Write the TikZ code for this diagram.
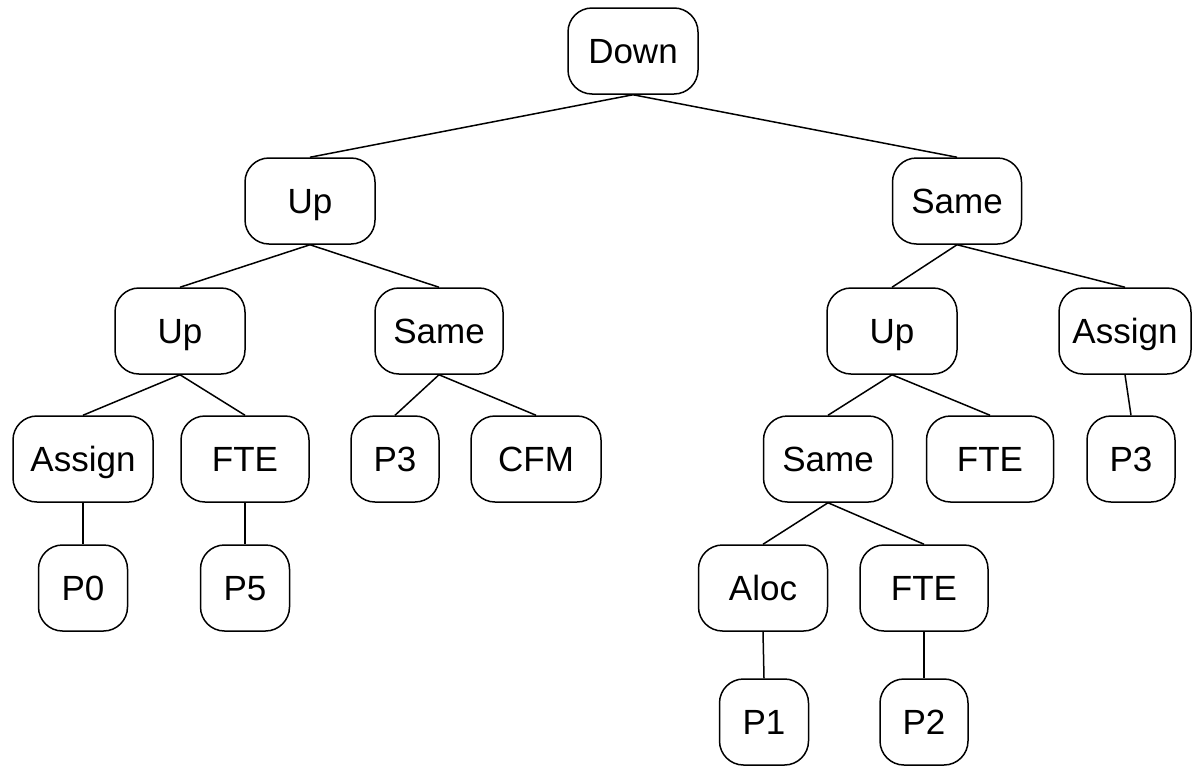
\documentclass[tikz,border=0pt]{standalone}
\usepackage{fontspec}
\setmainfont{Liberation Sans}
\begin{document}
\begin{tikzpicture}[x=1pt,y=-1pt,
  box/.style={draw, line width=1.5pt, rounded corners=24pt, minimum height=86pt, inner sep=0pt, text height=25pt, text depth=0pt, font=\fontsize{35}{40}\selectfont},
  link/.style={line width=1.5pt}]
\fill[white] (0,0) rectangle (1193,766);
\useasboundingbox (0,0) rectangle (1193,766);
% row 0
\node[box, minimum width=130pt] (down) at (633,51) {Down};
% row 1
\node[box, minimum width=130pt] (up1) at (310,201) {Up};
\node[box, minimum width=129pt] (same1) at (957,201) {Same};
% row 2
\node[box, minimum width=130pt] (up2) at (180,331) {Up};
\node[box, minimum width=128pt] (same2) at (439,331) {Same};
\node[box, minimum width=130pt] (up3) at (892,331) {Up};
\node[box, minimum width=132pt] (assignR) at (1125,331) {Assign};
% row 3
\node[box, minimum width=140pt] (assignL) at (83,459) {Assign};
\node[box, minimum width=128pt] (fteA) at (245,459) {FTE};
\node[box, minimum width=88pt] (p3a) at (395,459) {P3};
\node[box, minimum width=130pt] (cfm) at (536,459) {CFM};
\node[box, minimum width=129pt] (same3) at (828,459) {Same};
\node[box, minimum width=127pt] (fteB) at (990,459) {FTE};
\node[box, minimum width=88pt] (p3b) at (1131,459) {P3};
% row 4
\node[box, minimum width=89pt] (p0) at (83,588) {P0};
\node[box, minimum width=89pt] (p5) at (245,588) {P5};
\node[box, minimum width=129pt] (aloc) at (763,588) {Aloc};
\node[box, minimum width=128pt] (fteC) at (924,588) {FTE};
% row 5
\node[box, minimum width=89pt] (p1) at (764,722) {P1};
\node[box, minimum width=88pt] (p2) at (924,722) {P2};
% edges
\draw[link] (down.south) -- (up1.north);
\draw[link] (down.south) -- (same1.north);
\draw[link] (up1.south) -- (up2.north);
\draw[link] (up1.south) -- (same2.north);
\draw[link] (same1.south) -- (up3.north);
\draw[link] (same1.south) -- (assignR.north);
\draw[link] (up2.south) -- (assignL.north);
\draw[link] (up2.south) -- (fteA.north);
\draw[link] (same2.south) -- (p3a.north);
\draw[link] (same2.south) -- (cfm.north);
\draw[link] (up3.south) -- (same3.north);
\draw[link] (up3.south) -- (fteB.north);
\draw[link] (assignR.south) -- (p3b.north);
\draw[link] (assignL.south) -- (p0.north);
\draw[link] (fteA.south) -- (p5.north);
\draw[link] (same3.south) -- (aloc.north);
\draw[link] (same3.south) -- (fteC.north);
\draw[link] (aloc.south) -- (p1.north);
\draw[link] (fteC.south) -- (p2.north);
\end{tikzpicture}
\end{document}
